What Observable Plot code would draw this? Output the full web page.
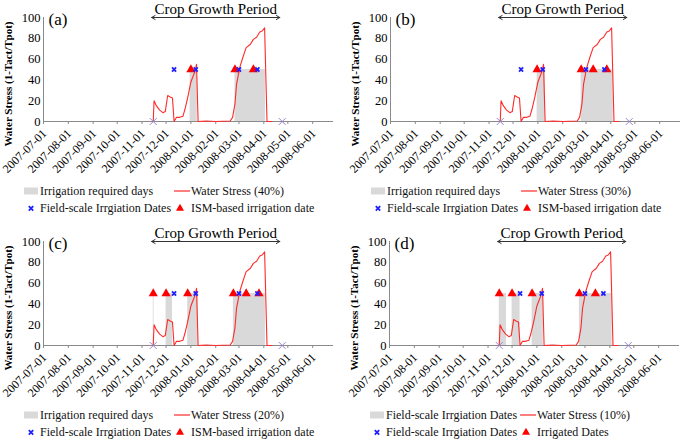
<!DOCTYPE html>
<html>
<head>
<meta charset="utf-8">
<script src="https://cdn.jsdelivr.net/npm/d3@7"></script>
<script src="https://cdn.jsdelivr.net/npm/@observablehq/plot@0.6"></script>
<style>
  body { margin: 0; background: #fff; font-family: "Liberation Serif", "Times New Roman", serif; }
  #root { position: relative; width: 685px; height: 442px; overflow: hidden; background: #fff; }
  .panel { position: absolute; width: 338px; height: 222px; }
  .panel svg { position: absolute; left: 0; top: 0; overflow: visible; }
  .ylab { position: absolute; left: 8px; top: 84px; transform: translate(-50%, -50%) rotate(-90deg);
          font-weight: bold; font-size: 11px; white-space: nowrap; color: #000; }
  .leg { position: absolute; font-size: 12px; white-space: nowrap; line-height: 14px; color: #111; }
  .leg svg { position: absolute; }
  .panel svg g[aria-label="x-axis"] line, .panel svg g[aria-label="x-axis tick"] path { stroke: #8a8a8a; }
</style>
</head>
<body>
<div id="root"></div>
<script>
// ---------- data ----------
const xDomain = ["2007-07-01", "2008-06-27"];
const xTicks = ["2007-07-01","2007-08-01","2007-09-01","2007-10-01","2007-11-01","2007-12-01",
                "2008-01-01","2008-02-01","2008-03-01","2008-04-01","2008-05-01","2008-06-01"];
const yTicks = [0, 20, 40, 60, 80, 100];

const stressDates = ["2007-11-15","2007-11-16","2007-11-19","2007-11-23","2007-11-27","2007-11-30",
  "2007-12-03","2007-12-06","2007-12-09","2007-12-11","2007-12-14","2007-12-18","2007-12-22",
  "2007-12-25","2007-12-28","2008-01-01","2008-01-03","2008-01-06","2008-01-08","2008-01-10",
  "2008-01-20","2008-02-01","2008-02-19","2008-02-22","2008-02-25","2008-02-27","2008-03-02",
  "2008-03-06","2008-03-10","2008-03-15","2008-03-19","2008-03-23","2008-03-27","2008-03-30",
  "2008-04-02","2008-04-05","2008-04-11"];
const stressValues = [0, 20, 15, 11, 8.5, 9.5,
  25, 23.5, 22.5, 0, 4, 4, 5,
  13, 23, 38, 42, 48, 55, 0,
  0.5, 0, 0.5, 4, 17, 36, 52,
  62, 71, 74, 79, 81, 86, 87,
  90, 0, 0];

const fieldDates = ["2007-12-11", "2008-01-07", "2008-03-01", "2008-03-24"];
const cropMarkDates = ["2007-11-15", "2008-04-24"];
const cropPeriod = ["2007-11-13", "2008-04-21"];
const cropText = "Crop Growth Period";
const markLevel = 50;

const panelLabels = ["(a)", "(b)", "(c)", "(d)"];
const barLegend = ["Irrigation required days", "Irrigation required days", "Irrigation required days", "Field-scale Irrgiation Dates"];
const lineLegend = ["Water Stress (40%)", "Water Stress (30%)", "Water Stress (20%)", "Water Stress (10%)"];
const fieldLegend = ["Field-scale Irrgiation Dates", "Field-scale Irrgiation Dates", "Field-scale Irrgiation Dates", "Field-scale Irrgiation Dates"];
const triLegend = ["ISM-based irrigation date", "ISM-based irrigation date", "ISM-based irrigation date", "Irrigated Dates"];
const yLabel = "Water Stress (1-Tact/Tpot)";

const barStartA = ["2007-12-31", "2008-02-25"];
const barEndA   = ["2008-01-09", "2008-04-03"];
const ismA      = ["2008-01-01", "2008-02-25", "2008-03-19"];

const barStartB = ["2007-12-31", "2008-02-24"];
const barEndB   = ["2008-01-10", "2008-04-04"];
const ismB      = ["2007-12-31", "2008-02-24", "2008-03-10", "2008-03-27"];

const barStartC = ["2007-11-15", "2007-12-01", "2007-12-28", "2008-02-23"];
const barEndC   = ["2007-11-16", "2007-12-09", "2008-01-10", "2008-04-03"];
const ismC      = ["2007-11-15", "2007-12-01", "2007-12-28", "2008-02-23", "2008-03-10", "2008-03-26"];

const barStartD = ["2007-11-15", "2007-12-01", "2007-12-26", "2008-02-23"];
const barEndD   = ["2007-11-24", "2007-12-11", "2008-01-09", "2008-04-04"];
const ismD      = ["2007-11-15", "2007-12-01", "2007-12-26", "2008-02-23", "2008-03-14"];

// ---------- drawing ----------
const P = d3.utcParse("%Y-%m-%d");
const stress = stressDates.map((d, i) => ({date: P(d), value: stressValues[i]}));

const panels = [
  {left: 0,   top: 0,   starts: barStartA, ends: barEndA, ism: ismA},
  {left: 347, top: 0,   starts: barStartB, ends: barEndB, ism: ismB},
  {left: 0,   top: 224, starts: barStartC, ends: barEndC, ism: ismC},
  {left: 346, top: 224, starts: barStartD, ends: barEndD, ism: ismD}
];

const root = document.getElementById("root");
const serif = "'Liberation Serif', 'Times New Roman', serif";

panels.forEach((p, k) => {
  const div = document.createElement("div");
  div.className = "panel";
  div.style.left = p.left + "px";
  div.style.top = p.top + "px";
  root.appendChild(div);

  const bars = p.starts.map((s, i) => ({x1: P(s), x2: P(p.ends[i])}));
  const ism = p.ism.map(d => ({date: P(d)}));
  const field = fieldDates.map(d => ({date: P(d)}));
  const marks = cropMarkDates.map(d => ({date: P(d)}));
  const cs = P(cropPeriod[0]), ce = P(cropPeriod[1]);
  const cm = new Date((+cs + +ce) / 2);
  const x0 = P(xDomain[0]);

  const chart = Plot.plot({
    width: 338, height: 180,
    marginLeft: 43, marginRight: 5, marginTop: 17, marginBottom: 59,
    style: {fontFamily: serif, fontSize: "12.5px", background: "transparent", color: "#000"},
    x: {type: "utc", domain: xDomain.map(P), ticks: xTicks.map(P), tickFormat: () => "",
        tickSize: 3, tickPadding: 0, label: null},
    y: {domain: [0, 100], ticks: yTicks, tickSize: 0, tickPadding: 3, label: null},
    marks: [
      Plot.rect(bars, {x1: "x1", x2: "x2", y1: 0, y2: markLevel, fill: "#d9d9d9"}),
      Plot.ruleY([0], {stroke: "#8a8a8a", strokeWidth: 1}),
      Plot.ruleX([x0], {y1: 0, y2: 100, stroke: "#8a8a8a", strokeWidth: 1}),
      Plot.text(xTicks, {x: d => P(d), y: 0, text: d => d, rotate: -45, textAnchor: "end",
                         lineAnchor: "middle", dx: 1, dy: 10, fontSize: 12, fill: "#000"}),
      Plot.line(stress, {x: "date", y: "value", stroke: "#ff2a2a", strokeWidth: 1.1}),
      Plot.dot(marks, {x: "date", y: 0, symbol: "times", r: 3.2, stroke: "#9b84cf", strokeWidth: 1}),
      Plot.dot(ism, {x: "date", y: markLevel, symbol: "triangle", r: 3.4, fill: "#ff0000", stroke: "none"}),
      Plot.dot(field, {x: "date", y: markLevel, symbol: "times", r: 2, stroke: "#2020ff", strokeWidth: 1.8}),
      Plot.arrow([{x1: cm, x2: cs}, {x1: cm, x2: ce}], {x1: "x1", x2: "x2", y1: 100, y2: 100, stroke: "#333", strokeWidth: 1, headLength: 6}),
      Plot.text([cropText], {x: cm, y: 100, text: d => d, dy: -8.5, fontSize: 15, fill: "#000", lineAnchor: "middle"}),
      Plot.text([panelLabels[k]], {frameAnchor: "top-left", text: d => d, dx: 5, dy: 2.5, fontSize: 17, textAnchor: "start", lineAnchor: "middle", fill: "#000"})
    ]
  });
  div.appendChild(chart);

  const yl = document.createElement("div");
  yl.className = "ylab";
  yl.textContent = yLabel;
  div.appendChild(yl);

  // legend
  function item(x, y, swatch, text, textX) {
    const it = document.createElement("div");
    it.className = "leg";
    it.style.left = x + "px";
    it.style.top = (y - 7) + "px";
    it.innerHTML = swatch + `<span style="position:absolute;left:${textX - x}px;top:0">${text}</span>`;
    div.appendChild(it);
  }
  const gray = `<svg width="14" height="14" style="left:0;top:0"><rect x="0" y="3.5" width="14" height="7" fill="#d9d9d9"/></svg>`;
  const redLine = `<svg width="16" height="14" style="left:0;top:0"><line x1="0" x2="16" y1="7" y2="7" stroke="#ff2a2a" stroke-width="1.2"/></svg>`;
  const blueX = `<svg width="8" height="14" style="left:0;top:0"><path d="M1.8,5.2L6.2,9.6M6.2,5.2L1.8,9.6" stroke="#2020ff" stroke-width="1.8"/></svg>`;
  const tri = `<svg width="10" height="14" style="left:0;top:0"><path d="M5,2.8L9,9.8L1,9.8Z" fill="#ff0000"/></svg>`;
  item(24, 191, gray, barLegend[k], 40);
  item(174, 191, redLine, lineLegend[k], 191);
  item(27, 208, blueX, fieldLegend[k], 40);
  item(175, 208, tri, triLegend[k], 191);
});
</script>
</body>
</html>
